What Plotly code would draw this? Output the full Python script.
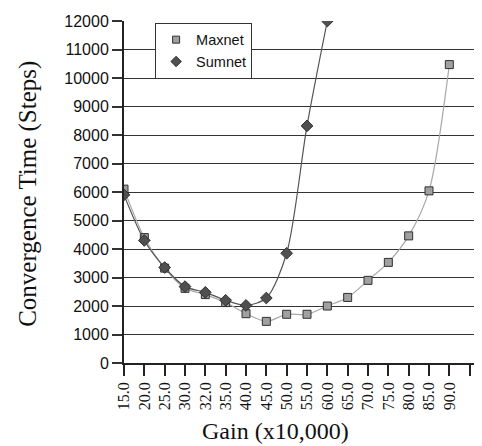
import plotly.graph_objects as go

categories = ["15.0", "20.0", "25.0", "30.0", "32.0", "35.0", "40.0", "45.0", "50.0",
              "55.0", "60.0", "65.0", "70.0", "75.0", "80.0", "85.0", "90.0", "", ""]
maxnet = [6100, 4400, 3330, 2620, 2400, 2120, 1730, 1460, 1710, 1710, 2000, 2300,
          2900, 3530, 4460, 6040, 10470]
sumnet = [5900, 4300, 3350, 2680, 2480, 2200, 2020, 2280, 3850, 8320, 12000]
y_ticks = list(range(0, 12001, 1000))
y_text = [str(v) for v in y_ticks]

idx = list(range(len(categories)))

max_marker = dict(symbol="square", size=8, color="#a0a0a0", line=dict(color="#303030", width=1))
sum_marker = dict(symbol="diamond", size=9, color="#505050", line=dict(color="#303030", width=1))

fig = go.Figure()
fig.add_trace(go.Scatter(
    x=idx[:len(maxnet)], y=maxnet, name="Maxnet", mode="lines+markers",
    line=dict(color="#a8a8a8", width=1.2, shape="spline", smoothing=0.8),
    marker=max_marker, showlegend=False,
))
fig.add_trace(go.Scatter(
    x=idx[:len(sumnet)], y=sumnet, name="Sumnet", mode="lines+markers",
    line=dict(color="#555555", width=1.2, shape="spline", smoothing=0.8),
    marker=sum_marker, showlegend=False,
))
# legend entries (markers only, as in the reference)
fig.add_trace(go.Scatter(x=[None], y=[None], name="Maxnet", mode="markers",
                         marker=dict(max_marker, size=7)))
fig.add_trace(go.Scatter(x=[None], y=[None], name="Sumnet", mode="markers",
                         marker=dict(sum_marker, size=8)))

fig.update_layout(
    width=482, height=446,
    margin=dict(l=116, r=0, t=13, b=91),
    paper_bgcolor="white", plot_bgcolor="white",
    showlegend=True,
    legend=dict(x=0.085, y=0.995, xanchor="left", yanchor="top",
                bgcolor="white", bordercolor="#333333", borderwidth=1,
                font=dict(family="Liberation Sans, Arial", size=14.5, color="#111111"),
                itemwidth=30, tracegroupgap=0),
    xaxis=dict(range=[0, 18], tickmode="array", tickvals=idx, ticktext=categories,
               tickangle=-90, ticks="outside", ticklen=11, tickwidth=1.5,
               tickcolor="#222222", showgrid=False, zeroline=False,
               showline=True, linecolor="#222222", linewidth=1.5,
               tickfont=dict(family="Liberation Serif, Times New Roman", size=16, color="#111111")),
    yaxis=dict(range=[0, 12000], tickmode="array", tickvals=y_ticks, ticktext=y_text,
               ticks="outside", ticklen=10, tickwidth=1.5, tickcolor="#333333",
               showgrid=True, gridcolor="#333333", gridwidth=1.3, zeroline=False,
               showline=True, linecolor="#222222", linewidth=2,
               tickfont=dict(family="Liberation Sans, Arial", size=16, color="#111111")),
    annotations=[
        dict(text="Convergence Time (Steps)", xref="paper", yref="paper",
             x=-0.262, y=0.495, xanchor="center", yanchor="middle", textangle=-90,
             showarrow=False,
             font=dict(family="Liberation Serif, Times New Roman", size=25, color="#111111")),
        dict(text="Gain (x10,000)", xref="paper", yref="paper",
             x=0.415, y=-0.243, xanchor="center", yanchor="bottom",
             showarrow=False,
             font=dict(family="Liberation Serif, Times New Roman", size=24, color="#111111")),
    ],
)

fig.write_html("out.html")
